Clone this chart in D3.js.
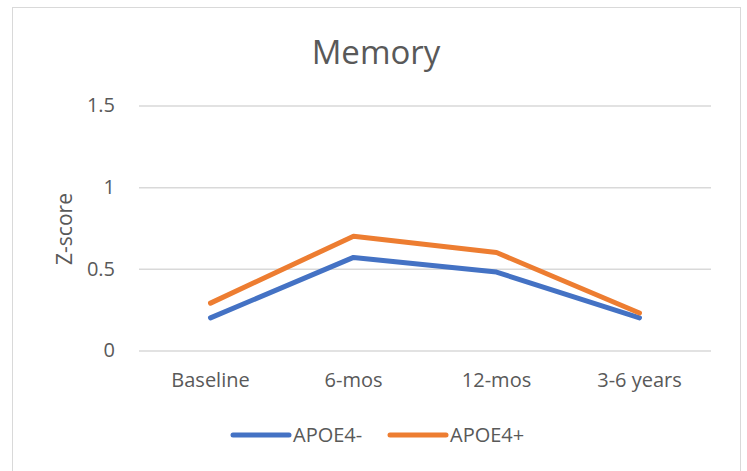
<!DOCTYPE html>
<html><head><meta charset="utf-8">
<script src="https://cdn.jsdelivr.net/npm/d3@7"></script>
<style>body{margin:0;background:#fff}svg{display:block}</style>
</head><body>
<script>
const categories = ["Baseline", "6-mos", "12-mos", "3-6 years"];
const apoeNeg = [0.20, 0.57, 0.48, 0.20];
const apoePos = [0.29, 0.70, 0.60, 0.23];
const yTicks = [0, 0.5, 1, 1.5];
const seriesNames = ["APOE4-", "APOE4+"];
const seriesColors = ["#4472C4", "#ED7D31"];

const W = 747, H = 471;
const svg = d3.select("body").append("svg").attr("width", W).attr("height", H);
const font = "'Open Sans', sans-serif";
const txt = "#595959";

svg.append("rect").attr("x", 12.5).attr("y", 7.5).attr("width", 728).attr("height", 480)
  .attr("fill", "#fff").attr("stroke", "#d9d9d9").attr("stroke-width", 1);

const x = d3.scaleBand().domain(categories).range([139, 711]);
const y = d3.scaleLinear().domain([0, 1.5]).range([350.5, 105.5]);

const yAxis = d3.axisLeft(y).tickValues(yTicks).tickSize(-(711 - 139)).tickPadding(24)
  .tickFormat(d => d3.format("")(d));
const gy = svg.append("g").attr("transform", "translate(139,0)").call(yAxis);
gy.select(".domain").remove();
gy.selectAll(".tick line").attr("stroke", "#d9d9d9").attr("stroke-width", 1.5);
gy.selectAll(".tick text").attr("fill", txt).style("font-family", font).style("font-size", "20px");

const xAxis = d3.axisBottom(x).tickSize(0).tickPadding(22);
const gx = svg.append("g").attr("transform", "translate(0,350.5)").call(xAxis);
gx.select(".domain").remove();
gx.selectAll(".tick text").attr("fill", txt).style("font-family", font).style("font-size", "20px");

const line = d3.line().x((d, i) => x(categories[i]) + x.bandwidth() / 2).y(d => y(d));
[apoeNeg, apoePos].forEach((s, k) => {
  svg.append("path").attr("d", line(s)).attr("fill", "none")
    .attr("stroke", seriesColors[k]).attr("stroke-width", 5)
    .attr("stroke-linecap", "round").attr("stroke-linejoin", "round");
});

svg.append("text").attr("x", 376).attr("y", 64).attr("text-anchor", "middle")
  .attr("fill", txt).style("font-family", font).style("font-size", "33px").text("Memory");

svg.append("text").attr("transform", "translate(72,229) rotate(-90)").attr("text-anchor", "middle")
  .attr("fill", txt).style("font-family", font).style("font-size", "21px").text("Z-score");

const legX = [233, 390];
seriesNames.forEach((n, k) => {
  svg.append("line").attr("x1", legX[k]).attr("x2", legX[k] + 56).attr("y1", 435).attr("y2", 435)
    .attr("stroke", seriesColors[k]).attr("stroke-width", 5).attr("stroke-linecap", "round");
  svg.append("text").attr("x", legX[k] + 60).attr("y", 442).attr("fill", txt)
    .style("font-family", font).style("font-size", "20px").text(n);
});
</script>
</body></html>
